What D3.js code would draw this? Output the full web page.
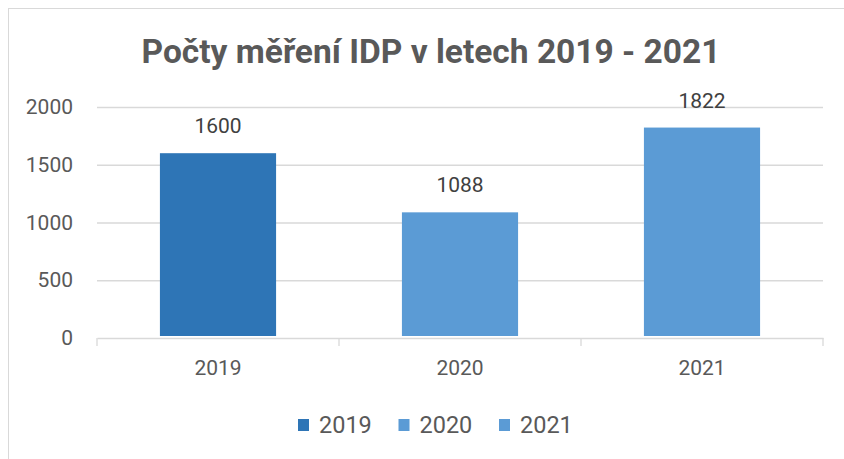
<!DOCTYPE html>
<html><head><meta charset="utf-8">
<script src="https://cdn.jsdelivr.net/npm/d3@7"></script>
<style>
html,body{margin:0;padding:0;background:#fff;}
svg{display:block;font-family:Roboto, "Open Sans", sans-serif;}
</style></head>
<body><svg id="c" width="844" height="459"></svg>
<script>
const title = "Počty měření IDP v letech 2019 - 2021";
const categories = ["2019", "2020", "2021"];
const values = [1600, 1088, 1822];
const colors = ["#2E75B6", "#5B9BD5", "#5B9BD5"];
const yTicks = [0, 500, 1000, 1500, 2000];

const svg = d3.select("#c");
const W = 844, H = 459;
const m = {left: 97, right: 21, top: 107, bottom: 121};

// chart border
svg.append("rect").attr("x", 8.5).attr("y", 8.5).attr("width", W + 10).attr("height", H + 10)
  .attr("fill", "none").attr("stroke", "#d9d9d9").attr("stroke-width", 1);

const x = d3.scaleBand().domain(categories).range([m.left, W - m.right]).paddingInner(0.52).paddingOuter(0.26);
const y = d3.scaleLinear().domain([0, 2000]).range([H - m.bottom, m.top]);

// gridlines
const grid = svg.append("g").attr("transform", `translate(${m.left},0)`)
  .call(d3.axisLeft(y).tickValues(yTicks.filter(t => t > 0)).tickSize(-(W - m.left - m.right)).tickFormat(""));
grid.select(".domain").remove();
grid.selectAll("line").attr("stroke", "#d9d9d9").attr("stroke-width", 1.3);

// y axis labels
const ya = svg.append("g").attr("transform", `translate(${m.left},0)`)
  .call(d3.axisLeft(y).tickValues(yTicks).tickFormat(d3.format("d")).tickSize(0).tickPadding(24));
ya.select(".domain").remove();
ya.selectAll("text").attr("fill", "#595959").style("font-size", "21px").style("font-family", "Roboto");

// bars
svg.append("g").selectAll("rect").data(values).join("rect")
  .attr("x", (d, i) => x(categories[i]))
  .attr("y", d => y(d))
  .attr("width", x.bandwidth())
  .attr("height", d => y(0) - y(d) - 2)
  .attr("fill", (d, i) => colors[i]);

// x axis
const xa = svg.append("g").attr("transform", `translate(0,${y(0)})`)
  .call(d3.axisBottom(x).tickSize(0).tickPadding(22));
xa.select(".domain").attr("stroke", "#d9d9d9").attr("stroke-width", 1.3);
xa.selectAll("text").attr("fill", "#595959").style("font-size", "21px").style("font-family", "Roboto");
// category boundary ticks
const edges = [m.left].concat(categories.slice(1).map(c => x(c) - (x.step() - x.bandwidth()) / 2), [W - m.right]);
svg.append("g").selectAll("line").data(edges).join("line")
  .attr("x1", d => d).attr("x2", d => d).attr("y1", y(0)).attr("y2", y(0) + 8)
  .attr("stroke", "#d9d9d9").attr("stroke-width", 1.3);

// data labels
svg.append("g").selectAll("text").data(values).join("text")
  .attr("x", (d, i) => x(categories[i]) + x.bandwidth() / 2)
  .attr("y", d => y(d) - 20)
  .attr("text-anchor", "middle")
  .attr("fill", "#404040").style("font-size", "21px")
  .text(d => d);

// title
svg.append("text").attr("x", 431).attr("y", 63).attr("text-anchor", "middle")
  .attr("fill", "#595959").style("font-size", "33.5px").style("font-weight", "bold")
  .text(title);

// legend
const lg = svg.append("g").attr("transform", "translate(298,0)");
const items = lg.selectAll("g").data(categories).join("g")
  .attr("transform", (d, i) => `translate(${i * 100.5},0)`);
items.append("rect").attr("x", 0).attr("y", 419).attr("width", 11).attr("height", 12)
  .attr("fill", (d, i) => colors[i]);
items.append("text").attr("x", 21).attr("y", 433).attr("fill", "#595959")
  .style("font-size", "23.5px").text(d => d);
</script></body></html>
